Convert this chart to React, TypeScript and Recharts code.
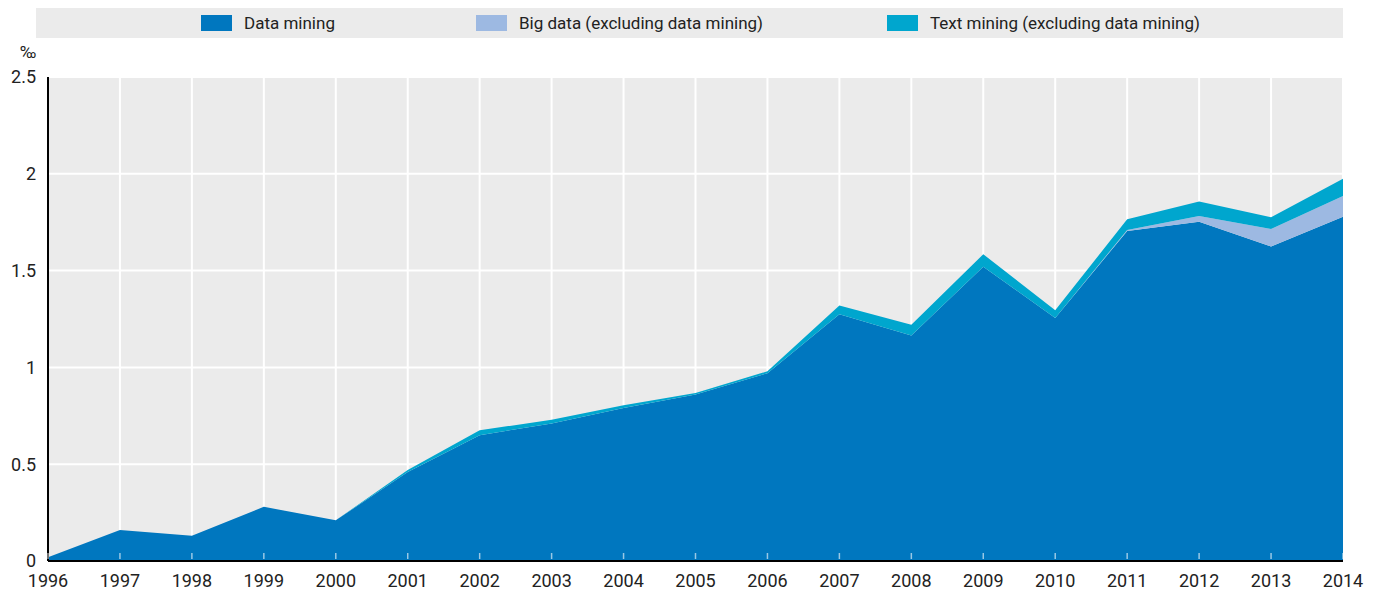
import { Area, AreaChart, CartesianGrid, Legend, XAxis, YAxis } from "recharts";

const years = [1996, 1997, 1998, 1999, 2000, 2001, 2002, 2003, 2004, 2005, 2006, 2007, 2008, 2009, 2010, 2011, 2012, 2013, 2014];
const dataMining = [0.02, 0.16, 0.13, 0.28, 0.21, 0.46, 0.65, 0.71, 0.79, 0.86, 0.97, 1.275, 1.165, 1.52, 1.255, 1.705, 1.752, 1.625, 1.778];
const bigData = [0, 0, 0, 0, 0, 0, 0, 0, 0, 0, 0, 0, 0, 0, 0, 0.005, 0.03, 0.09, 0.107];
const textMining = [0, 0, 0, 0, 0, 0.01, 0.025, 0.02, 0.015, 0.008, 0.01, 0.045, 0.055, 0.065, 0.04, 0.055, 0.075, 0.06, 0.09];
const yTicks = [0, 0.5, 1, 1.5, 2, 2.5];
const seriesNames = ["Data mining", "Big data (excluding data mining)", "Text mining (excluding data mining)"];

const FONT = '"Roboto", sans-serif';

const data = years.map((year, i) => ({
  year,
  dm: dataMining[i],
  bd: bigData[i],
  tm: textMining[i],
}));

const legendX = [165, 440, 851];

function LegendBand({ payload }: any) {
  const items = [...(payload || [])].sort(
    (a: any, b: any) => seriesNames.indexOf(a.value) - seriesNames.indexOf(b.value)
  );
  return (
    <div style={{ position: "relative", height: 30, background: "#EBEBEB", fontFamily: FONT, fontSize: 17, color: "#222" }}>
      {items.map((p: any, i: number) => (
        <div key={p.value} style={{ position: "absolute", left: legendX[i], top: 0, height: 30, display: "flex", alignItems: "center" }}>
          <span style={{ display: "inline-block", width: 31, height: 16, background: p.color, marginRight: 12 }} />
          <span>{p.value}</span>
        </div>
      ))}
    </div>
  );
}

function YearTick({ x, y, payload }: any) {
  return (
    <g>
      <line x1={x} x2={x} y1={y - 2} y2={y - 8} stroke="#ffffff" strokeOpacity={0.6} strokeWidth={1.5} />
      <text x={x} y={y + 26} textAnchor="middle" fontFamily={FONT} fontSize={18} fill="#222">
        {payload.value}
      </text>
    </g>
  );
}

function App() {
  return (
    <div style={{ position: "relative", width: 1362, height: 588 }}>
      <div style={{ position: "absolute", left: 12, top: 34, fontFamily: FONT, fontSize: 17, color: "#222" }}>‰</div>
      <AreaChart width={1362} height={588} data={data} margin={{ top: 39, right: 27, bottom: 0, left: 0 }}>
        <CartesianGrid stroke="#ffffff" strokeWidth={2} fill="#EBEBEB" horizontalValues={yTicks} verticalValues={years} />
        <Legend
          verticalAlign="top"
          content={<LegendBand />}
          wrapperStyle={{ top: 0, left: 28, width: 1307 }}
        />
        <XAxis
          dataKey="year"
          type="number"
          domain={[1996, 2014]}
          ticks={years}
          interval={0}
          tickLine={false}
          tickSize={0}
          tickMargin={0}
          height={35}
          axisLine={{ stroke: "#000", strokeWidth: 2 }}
          tick={<YearTick />}
        />
        <YAxis
          type="number"
          domain={[0, 2.5]}
          ticks={yTicks}
          width={40}
          tickLine={false}
          tickMargin={6}
          axisLine={{ stroke: "#000", strokeWidth: 2 }}
          tick={{ fontFamily: FONT, fontSize: 18, fill: "#222" }}
        />
        <Area type="linear" dataKey="dm" name={seriesNames[0]} stackId="1" fill="#0077BF" fillOpacity={1} stroke="none" isAnimationActive={false} />
        <Area type="linear" dataKey="bd" name={seriesNames[1]} stackId="1" fill="#9DB9E2" fillOpacity={1} stroke="none" isAnimationActive={false} />
        <Area type="linear" dataKey="tm" name={seriesNames[2]} stackId="1" fill="#00A6CE" fillOpacity={1} stroke="none" isAnimationActive={false} />
      </AreaChart>
    </div>
  );
}

export default App;
